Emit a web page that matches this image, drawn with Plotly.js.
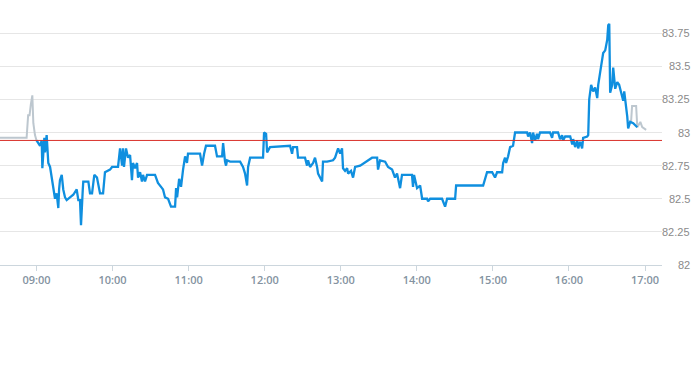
<!DOCTYPE html>
<html><head><meta charset="utf-8">
<script src="https://cdn.plot.ly/plotly-3.0.1.min.js"></script>
<style>html,body{margin:0;padding:0;background:#fff}#chart{width:693px;height:365px}</style>
</head><body><div id="chart"></div>
<script>
// minutes after 09:00 and prices
const preMin = [-28.8, -7.8, -6.6, -5.5, -4.5, -3.3, -2.5, -1.2, 0];
const preVal = [82.96, 82.96, 83.13, 83.13, 83.21, 83.28, 83.07, 82.98, 82.94];

const mainMin = [0,1.4,2.8,4.1,4.6,6.2,6.7,8.0,9.3,10.7,12.0,13.3,14.6,15.9,17.2,17.8,18.5,19.9,21.1,22.5,23.8,26.4,29.0,31.7,33.0,34.3,35.1,36.5,36.9,40.9,42.2,43.8,45.6,47.7,48.9,50.1,52.5,54.0,58.0,59.6,64.3,65.9,67.5,68.2,69.0,70.6,72.2,73.8,75.3,76.1,77.7,79.3,80.1,81.7,83.2,84.0,85.6,87.2,93.5,95.8,99.0,99.8,101.4,103.8,106.1,109.3,110.1,110.9,112.5,114.0,115.6,117.2,118.7,119.5,129.0,130.6,132.2,133.7,140.8,142.4,146.4,147.2,148.7,149.5,150.3,152.7,160.6,162.9,164.5,166.1,166.9,168.5,178.7,179.5,181.1,181.9,184.2,200.0,201.6,202.4,205.5,206.3,211.8,213.4,214.2,215.8,218.2,219.7,221.3,222.1,225.3,226.0,229.2,233.9,235.5,237.9,239.5,241.0,241.8,243.4,245.0,245.8,248.1,249.7,251.3,255.3,264.7,268.7,269.4,271.0,275.0,277.3,280.5,282.8,284.4,286.8,288.3,296.2,297.0,297.8,300.2,302.6,304.2,308.1,308.9,310.5,319.9,322.3,323.9,330.2,331.0,352.3,355.4,359.4,361.7,363.3,367.3,368.1,369.6,370.4,372.0,373.6,375.9,377.5,387.0,387.8,389.3,390.9,391.7,393.3,394.8,395.6,397.2,405.1,406.7,407.5,411.4,413.0,414.6,415.4,417.0,421.0,422.6,423.3,424.9,426.5,427.3,428.8,430.4,431.2,434.4,435.2,436.0,437.5,439.1,440.7,442.3,443.1,444.7,446.2,447.0,448.6,450.2,451.0,451.8,452.5,454.1,454.9,455.7,456.5,458.1,459.6,461.2,462.8,463.6,465.2,466.0,466.7,468.3,470.7,473.9];
const mainVal = [82.94,82.92,82.90,82.94,82.73,82.96,82.85,82.98,82.77,82.74,82.66,82.57,82.50,82.54,82.43,82.57,82.64,82.68,82.57,82.51,82.49,82.51,82.53,82.57,82.49,82.49,82.30,82.57,82.63,82.63,82.54,82.54,82.68,82.66,82.60,82.54,82.54,82.70,82.72,82.74,82.74,82.88,82.75,82.88,82.74,82.88,82.81,82.83,82.64,82.77,82.73,82.77,82.66,82.70,82.63,82.68,82.63,82.68,82.68,82.62,82.58,82.57,82.51,82.50,82.44,82.44,82.58,82.51,82.65,82.59,82.72,82.82,82.77,82.84,82.84,82.75,82.84,82.90,82.90,82.82,82.82,82.92,82.78,82.75,82.79,82.78,82.78,82.74,82.69,82.60,82.74,82.81,82.81,83.00,82.99,82.85,82.89,82.90,82.84,82.89,82.89,82.81,82.81,82.75,82.79,82.74,82.77,82.81,82.74,82.69,82.63,82.78,82.78,82.79,82.81,82.88,82.84,82.88,82.73,82.71,82.73,82.69,82.71,82.66,82.74,82.75,82.81,82.81,82.72,82.79,82.78,82.74,82.72,82.66,82.69,82.58,82.68,82.68,82.59,82.68,82.58,82.60,82.50,82.50,82.48,82.50,82.50,82.44,82.50,82.50,82.60,82.60,82.70,82.70,82.66,82.70,82.70,82.77,82.81,82.77,82.82,82.89,82.90,83.00,83.00,82.97,83.00,82.92,83.00,82.94,82.99,82.95,83.00,83.00,82.96,83.00,83.00,82.95,82.98,82.94,82.97,82.97,82.91,82.95,82.89,82.94,82.88,82.93,82.88,82.96,82.97,82.98,83.25,83.36,83.31,83.34,83.26,83.36,83.46,83.55,83.60,83.62,83.70,83.81,83.82,83.30,83.36,83.49,83.40,83.33,83.38,83.36,83.30,83.24,83.31,83.20,83.12,83.03,83.08,83.07,83.04];

const postMin = [469.0, 469.8, 473.0, 473.9, 476.3, 477.8, 480.9];
const postVal = [83.08, 83.20, 83.20, 83.04, 83.08, 83.04, 83.02];

const refLevel = 82.94;
const hourTicks = [0, 60, 120, 180, 240, 300, 360, 420, 480];
const hourLabels = ['09:00','10:00','11:00','12:00','13:00','14:00','15:00','16:00','17:00'];
const yTicks = [82, 82.25, 82.5, 82.75, 83, 83.25, 83.5, 83.75];
const yLabels = ['82','82.25','82.5','82.75','83','83.25','83.5','83.75'];
const xStartMin = -28.8, xEndMin = 493.4;

const base = Date.UTC(2024, 0, 2, 9, 0, 0);
function toDate(m){ const d = new Date(base + m*60000); return d.toISOString().replace('T',' ').replace('Z',''); }

const traces = [
  {x: preMin.map(toDate), y: preVal, mode:'lines', line:{color:'#bdc7cf', width:2}, hoverinfo:'skip'},
  {x: postMin.map(toDate), y: postVal, mode:'lines', line:{color:'#bdc7cf', width:2}, hoverinfo:'skip'},
  {x: mainMin.map(toDate), y: mainVal, mode:'lines', line:{color:'#0f8fdf', width:2.3}, hoverinfo:'skip'}
];

const annotations = yTicks.map((v,i)=>({
  xref:'paper', yref:'y', x:1, y:v, xanchor:'right', yanchor:'middle', xshift:30,
  text: yLabels[i], showarrow:false, font:{family:'Liberation Sans Narrow, Liberation Sans, Arial', size:11, color:'#8a8a8a'}
}));

const layout = {
  width:693, height:365,
  margin:{l:0, r:31, t:0, b:100},
  paper_bgcolor:'#fff', plot_bgcolor:'#fff',
  showlegend:false,
  xaxis:{type:'date', range:[toDate(xStartMin), toDate(xEndMin)],
    tickvals: hourTicks.map(toDate), ticktext: hourLabels,
    showgrid:false, zeroline:false, showline:true, linecolor:'#ccd6dd', linewidth:1,
    ticks:'outside', ticklen:5, tickcolor:'#ccd6dd',
    tickfont:{family:'Open Sans, sans-serif', size:11, color:'#8493a1', weight:600}},
  yaxis:{range:[82, 84], tickvals: yTicks, showticklabels:false,
    showgrid:true, gridcolor:'#e6e6e6', gridwidth:1, zeroline:false, showline:false, ticks:''},
  shapes:[{type:'line', xref:'paper', yref:'y', x0:0, x1:1, y0:refLevel, y1:refLevel, line:{color:'#d9302a', width:1}}],
  annotations: annotations
};
Plotly.newPlot('chart', traces, layout, {displayModeBar:false, staticPlot:true});
</script></body></html>
